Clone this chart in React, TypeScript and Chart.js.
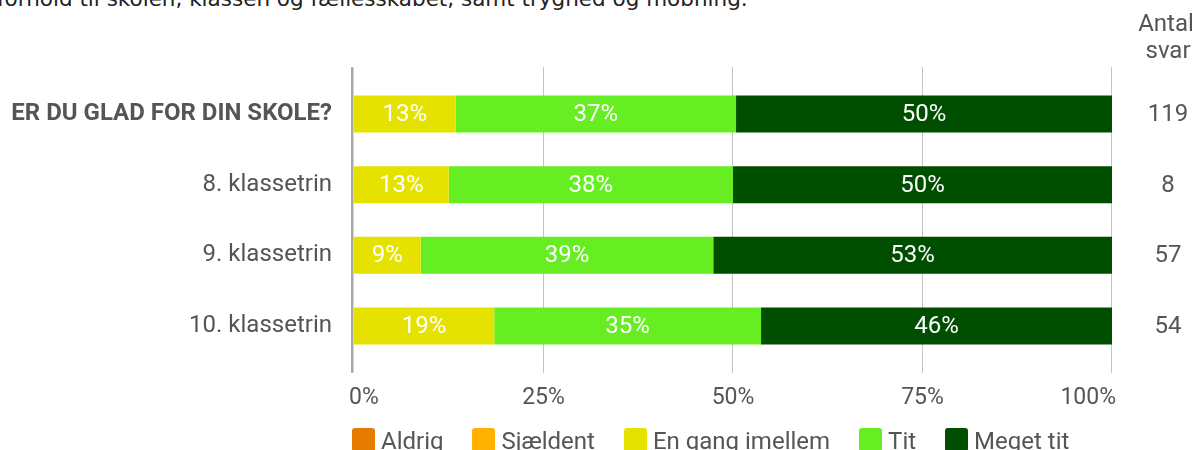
import React, { useEffect, useRef } from "react";
import { Chart, registerables } from "chart.js";

Chart.register(...registerables);

const titleText = "forhold til skolen, klassen og fællesskabet, samt tryghed og mobning.";
const categories = ["ER DU GLAD FOR DIN SKOLE?", "8. klassetrin", "9. klassetrin", "10. klassetrin"];
const seriesNames = ["Aldrig", "Sjældent", "En gang imellem", "Tit", "Meget tit"];
const seriesColors = ["#E57C00", "#FFB000", "#E6E200", "#66EE22", "#004F00"];
const aldrig = [0, 0, 0, 0];
const sjaeldent = [0, 0, 0, 0];
const enGangImellem = [13.4, 12.5, 8.8, 18.5];
const tit = [37.0, 37.5, 38.6, 35.2];
const megetTit = [49.6, 50.0, 52.6, 46.3];
const antalSvar = [119, 8, 57, 54];
const countHeader = ["Antal", "svar"];
const xTickValues = [0, 25, 50, 75, 100];
const xTickLabels = ["0%", "25%", "50%", "75%", "100%"];

const seriesValues = [aldrig, sjaeldent, enGangImellem, tit, megetTit];

const FONT = "Roboto";
const TEXT = "#555555";

const overlayPlugin = {
  id: "overlay",
  beforeDatasetsDraw(chart: any) {
    const { ctx, chartArea } = chart;
    const x = chart.scales.x;
    const top = chartArea.top - 11.5;
    const bottom = chartArea.bottom + 11.5;
    ctx.save();
    ctx.strokeStyle = "#c4c4c4";
    ctx.lineWidth = 1;
    xTickValues.forEach((v) => {
      if (v === 0) return;
      const px = Math.round(x.getPixelForValue(v)) - 0.5;
      ctx.beginPath();
      ctx.moveTo(px, top);
      ctx.lineTo(px, bottom);
      ctx.stroke();
    });
    ctx.fillStyle = "#a8a8a8";
    ctx.fillRect(chartArea.left - 3, top, 2.5, bottom - top);
    ctx.restore();
  },
  afterDatasetsDraw(chart: any) {
    const { ctx } = chart;
    ctx.save();
    ctx.fillStyle = "#ffffff";
    ctx.font = `24px ${FONT}`;
    ctx.textAlign = "center";
    ctx.textBaseline = "middle";
    chart.data.datasets.forEach((ds: any, di: number) => {
      const meta = chart.getDatasetMeta(di);
      meta.data.forEach((el: any, i: number) => {
        const v = ds.data[i];
        if (!v) return;
        const cx = (el.x + el.base) / 2;
        ctx.fillText(`${Math.round(v)}%`, cx, el.y + 1);
      });
    });
    ctx.restore();
  },
  afterDraw(chart: any) {
    const { ctx, chartArea } = chart;
    const x = chart.scales.x;
    const y = chart.scales.y;
    ctx.save();
    ctx.fillStyle = TEXT;
    ctx.font = `23px ${FONT}`;
    ctx.textBaseline = "middle";
    const ly = chartArea.bottom + 36.5;
    xTickValues.forEach((v, i) => {
      const px = x.getPixelForValue(v);
      if (i === 0) {
        ctx.textAlign = "left";
        ctx.fillText(xTickLabels[i], px - 5, ly);
      } else if (i === xTickValues.length - 1) {
        ctx.textAlign = "right";
        ctx.fillText(xTickLabels[i], px + 4, ly);
      } else {
        ctx.textAlign = "center";
        ctx.fillText(xTickLabels[i], px, ly);
      }
    });
    ctx.font = `24px ${FONT}`;
    ctx.textAlign = "center";
    const cx = 1168;
    ctx.fillText(countHeader[0], cx - 2, 25);
    ctx.fillText(countHeader[1], cx, 52);
    antalSvar.forEach((n, i) => {
      ctx.fillText(String(n), cx, y.getPixelForValue(i) + 1);
    });
    ctx.restore();
  },
};

export default function App() {
  const ref = useRef<HTMLCanvasElement | null>(null);

  useEffect(() => {
    document.body.style.margin = "0";
    const canvas = ref.current;
    if (!canvas) return;
    const chart = new Chart(canvas, {
      type: "bar",
      data: {
        labels: categories,
        datasets: seriesNames.map((name, i) => ({
          label: name,
          data: seriesValues[i],
          backgroundColor: seriesColors[i],
          borderWidth: 0,
          categoryPercentage: 1,
          barPercentage: 0.525,
        })),
      },
      options: {
        indexAxis: "y",
        responsive: false,
        animation: false,
        devicePixelRatio: 1,
        layout: { padding: { left: 0, right: 82, top: 78.7, bottom: 88.7 } },
        plugins: {
          legend: { display: false },
          tooltip: { enabled: false },
        },
        scales: {
          x: { stacked: true, min: 0, max: 100, display: false },
          y: {
            stacked: true,
            grid: { display: false, drawTicks: false, tickLength: 0 },
            border: { display: false },
            ticks: {
              padding: 22,
              color: TEXT,
              font: (c: any) => ({ family: FONT, size: 24, weight: c.index === 0 ? "bold" : "normal" }),
            },
            afterFit: (s: any) => {
              s.width = 354;
            },
          },
        },
      },
      plugins: [overlayPlugin],
    } as any);
    return () => chart.destroy();
  }, []);

  return (
    <div style={{ position: "relative", width: 1194, height: 450, overflow: "hidden", background: "#fff" }}>
      <div
        style={{
          position: "absolute",
          left: -3,
          top: -13,
          fontFamily: "'DejaVu Sans', Verdana, sans-serif",
          fontSize: 21.5,
          lineHeight: "24px",
          color: "#222",
          whiteSpace: "nowrap",
        }}
      >
        {titleText}
      </div>
      <canvas ref={ref} width={1194} height={450} style={{ position: "absolute", left: 0, top: 0 }} />
      <div
        style={{
          position: "absolute",
          left: 352,
          top: 428,
          display: "flex",
          alignItems: "flex-start",
          fontFamily: FONT,
          fontSize: 24,
          color: TEXT,
          whiteSpace: "nowrap",
        }}
      >
        {seriesNames.map((name, i) => (
          <div key={name} style={{ display: "flex", alignItems: "flex-start", marginRight: 29 }}>
            <div style={{ width: 23, height: 24, borderRadius: 3, background: seriesColors[i], marginRight: 6 }} />
            <div style={{ lineHeight: "24px", marginTop: 1 }}>{name}</div>
          </div>
        ))}
      </div>
    </div>
  );
}
